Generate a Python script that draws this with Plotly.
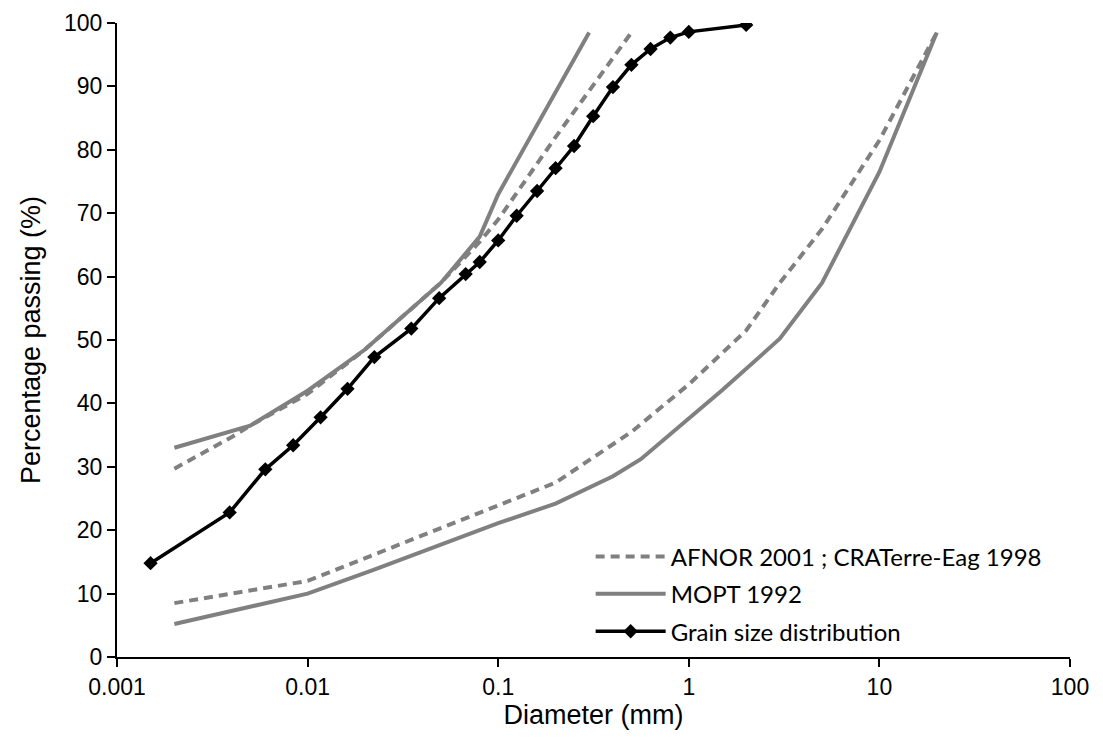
import plotly.graph_objects as go

# Grain size distribution (measured)
grain_d = [0.0015, 0.0039, 0.006, 0.0084, 0.0117, 0.0162, 0.0224, 0.035, 0.049, 0.0675,
           0.08, 0.1, 0.125, 0.16, 0.2, 0.25, 0.315, 0.4, 0.5, 0.63, 0.8, 1, 2]
grain_p = [14.8, 22.8, 29.6, 33.4, 37.8, 42.3, 47.3, 51.8, 56.6, 60.4,
           62.3, 65.7, 69.6, 73.5, 77.1, 80.6, 85.3, 89.9, 93.4, 95.9, 97.7, 98.6, 99.7]

# AFNOR 2001 ; CRATerre-Eag 1998 limits
afnor_fine_d = [0.002, 0.004, 0.005, 0.01, 0.02, 0.05, 0.08, 0.1, 0.2, 0.5]
afnor_fine_p = [29.7, 34.7, 36.5, 41.5, 48.5, 59, 65.5, 69, 82, 98.5]
afnor_coarse_d = [0.002, 0.01, 0.2, 0.5, 1, 2, 3, 5, 10, 20]
afnor_coarse_p = [8.5, 12, 27.5, 35.5, 43, 51.5, 59, 67.5, 81.5, 98.5]

# MOPT 1992 limits
mopt_fine_d = [0.002, 0.0035, 0.005, 0.01, 0.02, 0.05, 0.08, 0.1, 0.3]
mopt_fine_p = [33, 35.2, 36.5, 42, 48.5, 59, 66.3, 73, 98.5]
mopt_coarse_d = [0.002, 0.01, 0.022, 0.1, 0.2, 0.4, 0.56, 1.5, 3, 5, 10, 20]
mopt_coarse_p = [5.2, 10, 13.7, 21.1, 24.2, 28.5, 31.2, 42.1, 50.2, 59, 76.5, 98.5]

x_ticks = [0.001, 0.01, 0.1, 1, 10, 100]
x_tick_labels = ["0.001", "0.01", "0.1", "1", "10", "100"]
y_ticks = [0, 10, 20, 30, 40, 50, 60, 70, 80, 90, 100]

GRAY = "#808080"
fig = go.Figure()

fig.add_trace(go.Scatter(x=afnor_fine_d, y=afnor_fine_p, mode="lines",
                         name="AFNOR 2001 ; CRATerre-Eag 1998", legend="legend",
                         line=dict(color=GRAY, width=4, dash="9px,6px")))
fig.add_trace(go.Scatter(x=afnor_coarse_d, y=afnor_coarse_p, mode="lines",
                         name="AFNOR 2001 ; CRATerre-Eag 1998", showlegend=False,
                         line=dict(color=GRAY, width=4, dash="9px,6px")))
fig.add_trace(go.Scatter(x=mopt_fine_d, y=mopt_fine_p, mode="lines",
                         name="MOPT 1992", legend="legend2",
                         line=dict(color=GRAY, width=4)))
fig.add_trace(go.Scatter(x=mopt_coarse_d, y=mopt_coarse_p, mode="lines",
                         name="MOPT 1992", showlegend=False,
                         line=dict(color=GRAY, width=4)))
fig.add_trace(go.Scatter(x=grain_d, y=grain_p, mode="lines+markers",
                         name="Grain size distribution", legend="legend3",
                         line=dict(color="black", width=3.5),
                         marker=dict(symbol="diamond", size=11, color="black")))

FONT = "Liberation Sans, Arial, sans-serif"
axis_font = dict(family=FONT, size=23, color="black")
title_font = dict(family=FONT, size=27, color="black")
leg_common = dict(x=0.497, xanchor="left", yanchor="middle",
                  font=dict(family="Lato, sans-serif", size=24, color="black"),
                  bgcolor="rgba(0,0,0,0)", itemwidth=70)

fig.update_layout(
    width=1095, height=732,
    margin=dict(l=109, r=33, t=15, b=83, autoexpand=False),
    paper_bgcolor="white", plot_bgcolor="white",
    showlegend=True,
    legend=dict(y=0.158, **leg_common),
    legend2=dict(y=0.099, **leg_common),
    legend3=dict(y=0.040, **leg_common),
    xaxis=dict(type="log", range=[-3, 2], tickvals=x_ticks, ticktext=x_tick_labels,
               automargin=False,
               showgrid=False, zeroline=False, showline=True, linecolor="black", linewidth=2,
               ticks="outside", ticklen=8, tickwidth=2, tickcolor="black",
               tickfont=axis_font,
               title=dict(text="Diameter (mm)", font=title_font, standoff=4)),
    yaxis=dict(range=[0, 100], tickvals=y_ticks, automargin=False,
               showgrid=False, zeroline=False, showline=True, linecolor="black", linewidth=2,
               ticks="outside", ticklen=8, tickwidth=2, tickcolor="black",
               tickfont=axis_font,
               title=dict(text="Percentage passing (%)", font=title_font, standoff=16)),
)

fig.write_html("out.html")
